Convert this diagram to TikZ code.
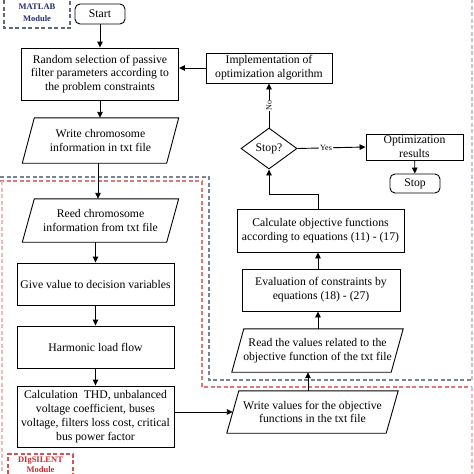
\documentclass[tikz,border=0pt]{standalone}
\usepackage{fontspec}
\setmainfont{Liberation Serif}
\usetikzlibrary{arrows.meta,shapes.geometric,calc}
\definecolor{navyt}{RGB}{35,45,115}
\definecolor{redt}{RGB}{200,40,45}
\definecolor{grayb}{RGB}{120,130,148}
\definecolor{redb}{RGB}{225,120,120}
\begin{document}
\begin{tikzpicture}[x=1pt,y=-1pt,
  every node/.style={font=\fontsize{11.7}{13.8}\selectfont, inner sep=0pt, align=center},
  box/.style={draw, line width=0.9pt, minimum width=#1},
  rbox/.style={draw, line width=0.9pt, rounded corners=5pt, minimum width=50pt},
  ghost/.style={draw=none, minimum width=#1},
  arr/.style={line width=0.9pt, -{Triangle[length=6pt,width=5.5pt]}},
  ln/.style={line width=0.9pt},
  gdash/.style={grayb, line width=1.1pt, dash pattern=on 4pt off 2.5pt},
  rdash/.style={redb, line width=1.1pt, dash pattern=on 4pt off 2.5pt},
  lab/.style={font=\fontsize{8}{9}\selectfont},
  modlab/.style={font=\fontsize{8.5}{10}\bfseries}
]
\useasboundingbox (0,0) rectangle (474,474);

% module boundaries
\draw[gdash] (0,177) -- (209,177) -- (209,380) -- (472,380);
\draw[gdash, grayb!45] (472,380) -- (472,0);
\draw[rdash] (202,181) -- (202,387) -- (472,387);
\draw[rdash] (0,181) -- (202,181);
\draw[rdash, redb!50] (472,387) -- (472,474);
\draw[rdash, redb!50] (2,181) -- (2,474);

% module labels
\draw[gdash, grayb!80!black] (4,0) -- (4,28) -- (70,28) -- (70,0);
\node[modlab, text=navyt] (mat) at (37,6.5) {MATLAB};
\node[modlab, text=navyt] (matm) at (37,19) {Module};
\draw[rdash, redt!80] (8,474) -- (8,454) -- (73,454) -- (73,474);
\node[modlab, text=redt] (dig) at (40.5,460.5) {DIgSILENT};
\node[modlab, text=redt] (digm) at (40.5,469.5) {Module};

% left column
\node[rbox, minimum height=20pt] (start) at (100,14) {Start};
\node[box=157pt, minimum height=52pt] (rand) at (100,74) {Random selection of passive\\filter parameters according to\\the problem constraints};
\node[ghost=144pt, minimum height=45pt] (wchr) at (100.5,140.5) {Write chromosome\\information in txt file};
\node[ghost=144pt, minimum height=43pt] (rchr) at (100.5,220.5) {Reed chromosome\\information from txt file};
\node[box=157pt, minimum height=42pt] (give) at (95.5,284) {Give value to decision variables};
\node[box=157pt, minimum height=42pt] (harm) at (95.5,347) {Harmonic load flow};
\node[box=157pt, minimum height=61pt] (calc) at (95.5,416.5) {Calculation\ \ THD, unbalanced\\voltage coefficient, buses\\voltage, filters loss cost, critical\\bus power factor};

% right part
\node[ghost=159pt, minimum height=42pt] (wval) at (312.5,412) {Write values for the objective\\functions in the txt file};
\node[ghost=159pt, minimum height=43pt] (rval) at (317.5,350.5) {Read the values related to the\\objective function of the txt file};
\node[box=158pt, minimum height=42pt] (eval) at (321,290) {Evaluation of constraints by\\equations (18) - (27)};
\node[box=167pt, minimum height=43pt] (cobj) at (320.5,230.5) {Calculate objective functions\\according to equations (11) - (17)};
\node[draw, line width=0.9pt, diamond, minimum width=56pt, minimum height=41pt] (dec) at (269,148.5) {Stop?};
\node[box=126pt, minimum height=30pt] (impl) at (269,68) {Implementation of\\optimization algorithm};
\node[box=97pt, minimum height=26pt] (opt) at (414.5,147) {Optimization\\results};
\node[rbox, minimum height=19pt] (stop) at (415,183.5) {Stop};

% parallelograms
\foreach \n in {wchr,rchr,wval,rval}
  \draw[ln] ([xshift=6pt]\n.north west) -- ([xshift=6pt]\n.north east) -- ([xshift=-6pt]\n.south east) -- ([xshift=-6pt]\n.south west) -- cycle;

% connectors
\coordinate (c1) at (308,0);
\coordinate (c2) at (318,0);
\coordinate (c3) at (318,194);
\draw[arr] (start) -- (rand);
\draw[arr] (rand) -- (rand.south |- wchr.north);
\draw[arr] (wchr.south -| 98,0) -- (rchr.north -| 98,0);
\draw[arr] (rchr.south -| give.north) -- (give);
\draw[arr] (give) -- (harm);
\draw[arr] (harm) -- (calc);
\draw[arr] (calc.east |- wval.west) -- (wval.west);
\draw[arr] (wval.north -| c1) -- (rval.south -| c1);
\draw[arr] (rval.north -| c2) -- (eval.south -| c2);
\draw[arr] (eval.north -| c2) -- (cobj.south -| c2);
\draw[arr] (cobj.north -| c3) -- (c3) -| (dec.south);
\draw[arr] (dec.north) -- node[lab, fill=white, rotate=90, inner sep=1pt] (no) {No} (impl.south);
\draw[arr] (impl.west) -- (impl.west -| rand.east);
\draw[arr] (dec.east) -- node[lab, fill=white, inner sep=1pt, pos=0.42] (yes) {Yes} (opt.west);
\draw[arr] (opt) -- (stop);
\end{tikzpicture}
\end{document}
